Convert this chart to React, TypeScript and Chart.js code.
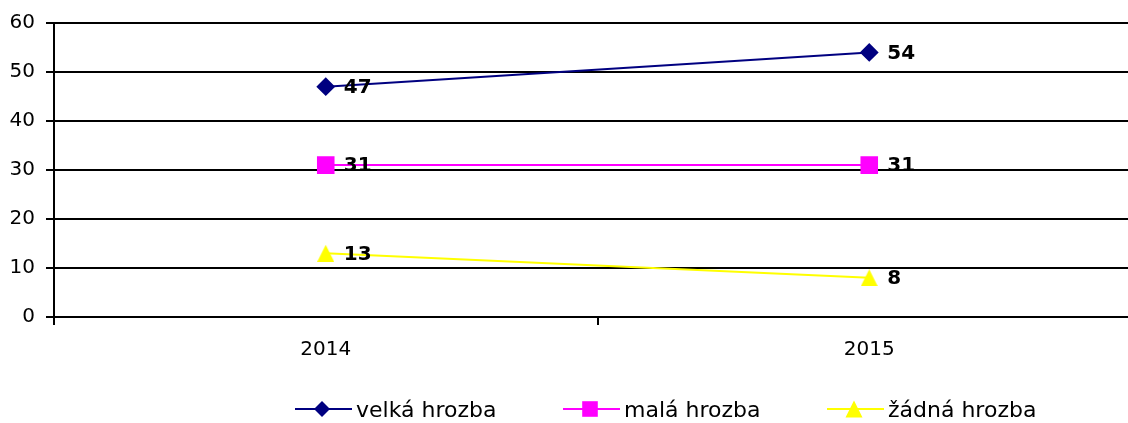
import { useEffect, useRef } from "react";
import { Chart, registerables } from "chart.js";

Chart.register(...registerables);

const years = ["2014", "2015"];
const velkaHrozba = [47, 54];
const malaHrozba = [31, 31];
const zadnaHrozba = [13, 8];
const seriesNames = ["velká hrozba", "malá hrozba", "žádná hrozba"];
const seriesColors = ["#000080", "#FF00FF", "#FFFF00"];
const yMin = 0;
const yMax = 60;
const yStep = 10;

const FONT = "'DejaVu Sans', Verdana, sans-serif";
const legendX = [295, 563, 827];

function makeTriangle(color: string, size: number) {
  const c = document.createElement("canvas");
  c.width = size;
  c.height = size;
  const ctx = c.getContext("2d")!;
  ctx.fillStyle = color;
  ctx.beginPath();
  ctx.moveTo(size / 2, 0);
  ctx.lineTo(size, size);
  ctx.lineTo(0, size);
  ctx.closePath();
  ctx.fill();
  return c;
}

function drawMarker(ctx: CanvasRenderingContext2D, kind: number, x: number, y: number, color: string) {
  ctx.save();
  ctx.fillStyle = color;
  ctx.beginPath();
  if (kind === 0) {
    const r = 8;
    ctx.moveTo(x, y - r);
    ctx.lineTo(x + r, y);
    ctx.lineTo(x, y + r);
    ctx.lineTo(x - r, y);
  } else if (kind === 1) {
    const h = 7.8;
    ctx.rect(x - h, y - h, 2 * h, 2 * h);
  } else {
    const s = 17;
    ctx.moveTo(x, y - s / 2);
    ctx.lineTo(x + s / 2, y + s / 2);
    ctx.lineTo(x - s / 2, y + s / 2);
  }
  ctx.closePath();
  ctx.fill();
  ctx.restore();
}

const labelsPlugin = {
  id: "valueLabels",
  afterDatasetsDraw(chart: any) {
    const ctx = chart.ctx as CanvasRenderingContext2D;
    ctx.save();
    ctx.font = `bold 20px ${FONT}`;
    ctx.fillStyle = "#000000";
    ctx.textAlign = "left";
    ctx.textBaseline = "middle";
    chart.data.datasets.forEach((ds: any, i: number) => {
      const meta = chart.getDatasetMeta(i);
      meta.data.forEach((pt: any, j: number) => {
        ctx.fillText(String(ds.data[j]), pt.x + 18, pt.y + 1);
      });
    });
    ctx.restore();
  },
};

const legendPlugin = {
  id: "customLegend",
  afterDraw(chart: any) {
    const ctx = chart.ctx as CanvasRenderingContext2D;
    const y = 409;
    chart.data.datasets.forEach((ds: any, i: number) => {
      const x0 = legendX[i];
      ctx.save();
      ctx.strokeStyle = ds.borderColor;
      ctx.lineWidth = 2;
      ctx.beginPath();
      ctx.moveTo(x0, y);
      ctx.lineTo(x0 + 57, y);
      ctx.stroke();
      ctx.restore();
      drawMarker(ctx, i, x0 + 27, y, ds.borderColor);
      ctx.save();
      ctx.font = `22px ${FONT}`;
      ctx.fillStyle = "#000000";
      ctx.textAlign = "left";
      ctx.textBaseline = "middle";
      ctx.fillText(ds.label, x0 + 61, y + 2);
      ctx.restore();
    });
  },
};

export default function App() {
  const ref = useRef<HTMLCanvasElement | null>(null);

  useEffect(() => {
    if (!ref.current) return;
    const tri = makeTriangle(seriesColors[2], 17);
    const chart = new Chart(ref.current, {
      type: "line",
      data: {
        labels: years,
        datasets: [
          {
            label: seriesNames[0],
            data: velkaHrozba,
            borderColor: seriesColors[0],
            backgroundColor: seriesColors[0],
            borderWidth: 2,
            pointStyle: "rectRot",
            pointRadius: 8,
            pointHoverRadius: 8,
            tension: 0,
          },
          {
            label: seriesNames[1],
            data: malaHrozba,
            borderColor: seriesColors[1],
            backgroundColor: seriesColors[1],
            borderWidth: 2,
            pointStyle: "rect",
            pointRadius: 11,
            pointHoverRadius: 11,
            tension: 0,
          },
          {
            label: seriesNames[2],
            data: zadnaHrozba,
            borderColor: seriesColors[2],
            backgroundColor: seriesColors[2],
            borderWidth: 2,
            pointStyle: tri as any,
            pointRadius: 9,
            tension: 0,
          },
        ],
      },
      options: {
        responsive: true,
        maintainAspectRatio: false,
        animation: false,
        events: [],
        layout: { padding: { top: 23, left: 0, right: 0, bottom: 0 } },
        plugins: {
          legend: { display: false },
          tooltip: { enabled: false },
        },
        scales: {
          x: {
            type: "category",
            offset: true,
            grid: {
              offset: true,
              drawOnChartArea: false,
              drawTicks: true,
              tickLength: 8,
              color: "#000000",
              lineWidth: 2,
            },
            border: { display: true, color: "#000000", width: 2 },
            ticks: {
              color: "#000000",
              font: { family: FONT, size: 20 },
              padding: 13,
              maxRotation: 0,
            },
            afterFit(scale: any) {
              scale.height = 106;
              scale.paddingLeft = 0;
              scale.paddingRight = 0;
            },
          },
          y: {
            min: yMin,
            max: yMax,
            grid: {
              color: "#000000",
              lineWidth: 2,
              drawTicks: true,
              tickLength: 8,
            },
            border: { display: true, color: "#000000", width: 2 },
            ticks: {
              stepSize: yStep,
              color: "#000000",
              font: { family: FONT, size: 20 },
              padding: 11,
            },
            afterFit(scale: any) {
              scale.width = 54;
            },
          },
        },
      },
      plugins: [labelsPlugin, legendPlugin],
    });
    return () => chart.destroy();
  }, []);

  return (
    <div
      style={{
        position: "absolute",
        left: 0,
        top: 0,
        width: 1128,
        height: 423,
        overflow: "hidden",
        background: "#ffffff",
      }}
    >
      <div style={{ position: "relative", width: 1154, height: 423 }}>
        <canvas ref={ref} />
      </div>
    </div>
  );
}
